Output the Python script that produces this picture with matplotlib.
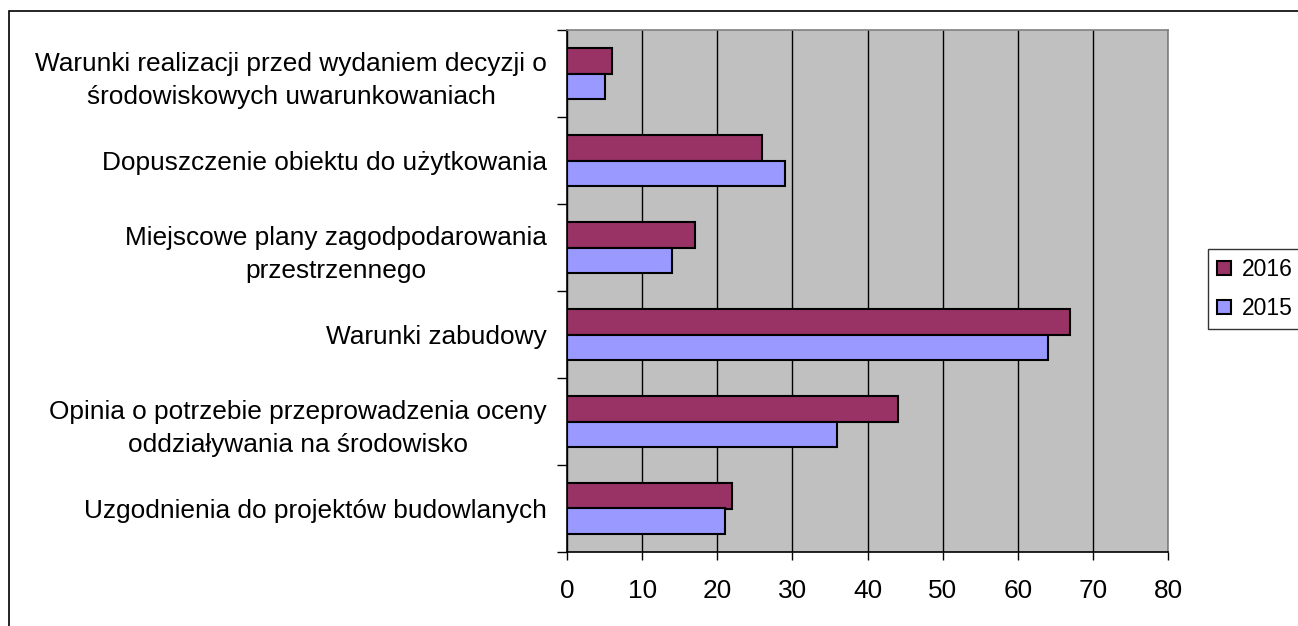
import matplotlib
matplotlib.use("Agg")
import matplotlib.pyplot as plt
import numpy as np
from matplotlib.patches import Rectangle

plt.rcParams['font.family'] = ['Liberation Sans', 'DejaVu Sans']

categories = [
    "Uzgodnienia do projektów budowlanych",
    "Opinia o potrzebie przeprowadzenia oceny\noddziaływania na środowisko",
    "Warunki zabudowy",
    "Miejscowe plany zagodpodarowania\nprzestrzennego",
    "Dopuszczenie obiektu do użytkowania",
    "Warunki realizacji przed wydaniem decyzji o\nśrodowiskowych uwarunkowaniach",
]
values_2016 = [22, 44, 67, 17, 26, 6]
values_2015 = [21, 36, 64, 14, 29, 5]
series_names = ["2016", "2015"]
xticks = [0, 10, 20, 30, 40, 50, 60, 70, 80]

W, H = 1298, 626
FS = 18.9
fig = plt.figure(figsize=(W / 100, H / 100), dpi=100)
ax = fig.add_axes([567 / W, 1 - 552 / H, (1168 - 567) / W, (552 - 30) / H])

y = np.arange(len(categories))
bh = 0.295
ax.barh(y + bh / 2, values_2016, height=bh, color="#993366", edgecolor="black", linewidth=1.5, label=series_names[0], zorder=3)
ax.barh(y - bh / 2, values_2015, height=bh, color="#9999FF", edgecolor="black", linewidth=1.5, label=series_names[1], zorder=3)

ax.set_facecolor("#C0C0C0")
ax.set_xlim(0, 80)
ax.set_ylim(-0.5, len(categories) - 0.5)
ax.set_xticks(xticks)
ax.set_xticklabels([str(t) for t in xticks], fontsize=FS)
ax.xaxis.grid(True, color="black", linewidth=1, zorder=1)
ax.set_axisbelow(True)

ax.set_yticks(np.arange(-0.5, len(categories), 1.0))
ax.set_yticklabels([])
ax.set_yticks(y, minor=True)
ax.set_yticklabels(categories, minor=True, fontsize=FS, ha="right", multialignment="center", linespacing=1.45)
ax.tick_params(axis="y", which="minor", length=0, pad=14.4)
ax.tick_params(axis="y", which="major", length=7.2, width=1, color="black")
ax.tick_params(axis="x", length=5.8, width=1, pad=14)

for s in ["top", "right"]:
    ax.spines[s].set_color("#808080")
    ax.spines[s].set_linewidth(1.2)
for s in ["left", "bottom"]:
    ax.spines[s].set_color("black")
    ax.spines[s].set_linewidth(1.2)

leg = fig.legend(loc="upper left", bbox_to_anchor=(1208 / W, 1 - 249 / H), fontsize=16.5,
                 frameon=True, fancybox=False, edgecolor="black", handlelength=0.62,
                 handleheight=0.6, handletextpad=0.45, borderpad=0.4, labelspacing=0.7,
                 borderaxespad=0)
leg.get_frame().set_linewidth(1)

fig.patches.append(Rectangle((9 / W, -0.1), 1.2, 1 - 11 / H + 0.1, transform=fig.transFigure,
                             fill=False, edgecolor="black", linewidth=1.2, zorder=0))

fig.savefig("out.png", dpi=100)
